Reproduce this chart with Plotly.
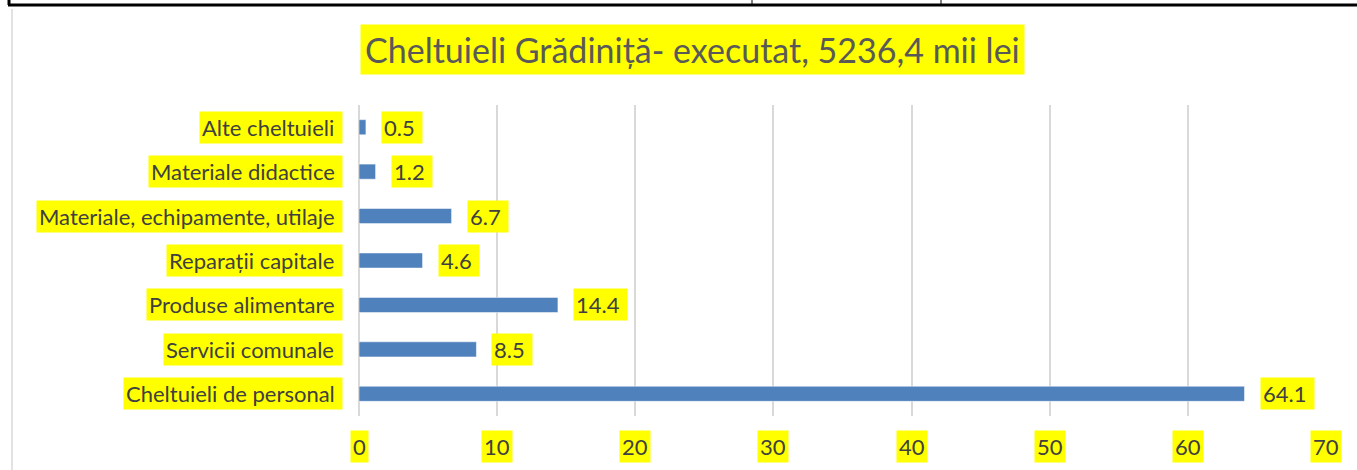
import plotly.graph_objects as go

categories = ["Cheltuieli de personal", "Servicii comunale", "Produse alimentare",
              "Reparații capitale", "Materiale, echipamente, utilaje",
              "Materiale didactice", "Alte cheltuieli"]
values = [64.1, 8.5, 14.4, 4.6, 6.7, 1.2, 0.5]
value_labels = ["64.1", "8.5", "14.4", "4.6", "6.7", "1.2", "0.5"]
x_ticks = [0, 10, 20, 30, 40, 50, 60, 70]
title_text = "Cheltuieli Grădiniță- executat, 5236,4 mii lei"

FONT = "Lato"
TXT = "#404040"
YEL = "#FFFF00"

fig = go.Figure()
fig.add_trace(go.Bar(
    y=categories, x=values, orientation="h",
    marker=dict(color="#4F81BD", line=dict(color="#FFFFFF", width=0.5)),
    width=0.34, hoverinfo="skip",
))

ann = []
# category labels with yellow highlight
for c in categories:
    ann.append(dict(xref="paper", yref="y", x=0, y=c, xanchor="right", yanchor="middle",
                    xshift=-16, text=c + " ", showarrow=False, bgcolor=YEL, borderpad=2,
                    font=dict(family=FONT, size=22, color=TXT)))
# value labels
for c, v, t in zip(categories, values, value_labels):
    ann.append(dict(xref="x", yref="y", x=v, y=c, xanchor="left", yanchor="middle",
                    xshift=15, text=t + " ", showarrow=False, bgcolor=YEL, borderpad=2,
                    font=dict(family=FONT, size=22, color=TXT)))
# x tick labels
for t in x_ticks:
    ann.append(dict(xref="x", yref="paper", x=t, y=0, xanchor="center", yanchor="top",
                    yshift=-14, text=str(t), showarrow=False, bgcolor=YEL, borderpad=2,
                    font=dict(family=FONT, size=22, color=TXT)))


def px(p):
    return (p - 359) / 967


def py(p):
    return (416 - p) / 311


# title
ann.append(dict(xref="paper", yref="paper", x=px(692), y=py(49.5),
                xanchor="center", yanchor="middle", text=title_text, showarrow=False,
                bgcolor=YEL, borderpad=4,
                font=dict(family=FONT, size=34, color="#595959")))

shapes = [
    dict(type="line", xref="paper", yref="paper", x0=px(8), x1=px(1357), y0=py(5), y1=py(5),
         line=dict(color="black", width=3)),
    dict(type="line", xref="paper", yref="paper", x0=px(9), x1=px(9), y0=py(0), y1=py(5),
         line=dict(color="black", width=3)),
    dict(type="line", xref="paper", yref="paper", x0=px(752), x1=px(752), y0=py(0), y1=py(5),
         line=dict(color="black", width=1)),
    dict(type="line", xref="paper", yref="paper", x0=px(941), x1=px(941), y0=py(0), y1=py(5),
         line=dict(color="black", width=1)),
    dict(type="line", xref="paper", yref="paper", x0=px(12), x1=px(12), y0=py(9), y1=py(470),
         line=dict(color="#D9D9D9", width=1.5)),
]

fig.update_layout(
    width=1357, height=470,
    margin=dict(l=359, r=31, t=105, b=54),
    paper_bgcolor="white", plot_bgcolor="white",
    showlegend=False,
    annotations=ann, shapes=shapes,
    xaxis=dict(range=[0, 70], tickvals=x_ticks, showticklabels=False,
               showgrid=True, gridcolor="#D9D9D9", gridwidth=1.5,
               zeroline=True, zerolinecolor="#D9D9D9", zerolinewidth=1.5,
               showline=False, fixedrange=True),
    yaxis=dict(categoryorder="array", categoryarray=categories,
               range=[-0.5, 6.5], showticklabels=False, showgrid=False,
               zeroline=False, showline=False, fixedrange=True),
)

fig.write_html("out.html", config={"displayModeBar": False},
               post_script="document.body.style.margin='0';document.body.style.overflow='hidden';")
